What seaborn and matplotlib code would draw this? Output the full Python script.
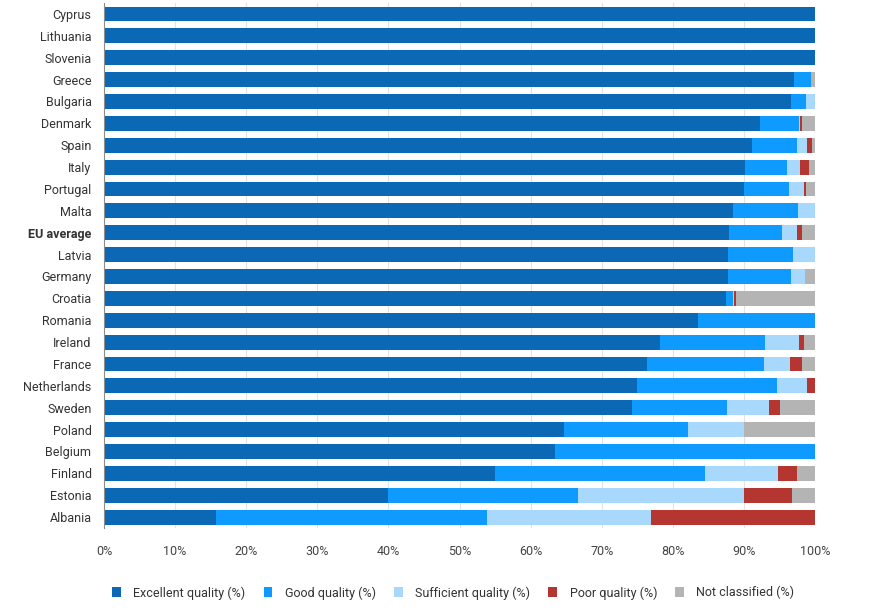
import numpy as np
import pandas as pd
import matplotlib
matplotlib.use("Agg")
import matplotlib.pyplot as plt
from matplotlib.patches import Patch
import seaborn as sns

# Datos (porcentaje de aguas de baño por calidad)
countries = ["Cyprus", "Lithuania", "Slovenia", "Greece", "Bulgaria", "Denmark",
             "Spain", "Italy", "Portugal", "Malta", "EU average", "Latvia",
             "Germany", "Croatia", "Romania", "Ireland", "France", "Netherlands",
             "Sweden", "Poland", "Belgium", "Finland", "Estonia", "Albania"]
excellent = [100, 100, 100, 97.0, 96.6, 92.2, 91.1, 90.1, 90.0, 88.4, 87.9, 87.8,
             87.8, 87.5, 83.6, 78.2, 76.4, 75.0, 74.2, 64.7, 63.4, 55.0, 39.9, 15.8]
good = [0, 0, 0, 2.4, 2.2, 5.5, 6.4, 6.0, 6.4, 9.2, 7.5, 9.1,
        8.8, 1.0, 16.4, 14.8, 16.4, 19.6, 13.4, 17.4, 36.6, 29.5, 26.8, 38.1]
sufficient = [0, 0, 0, 0, 1.2, 0.2, 1.4, 1.8, 2.0, 2.4, 2.0, 3.1,
              2.0, 0.1, 0, 4.8, 3.7, 4.3, 6.0, 7.9, 0, 10.3, 23.3, 23.1]
poor = [0, 0, 0, 0, 0, 0.3, 0.7, 1.3, 0.4, 0, 0.8, 0,
        0, 0.3, 0, 0.7, 1.7, 1.1, 1.5, 0, 0, 2.6, 6.7, 23.0]
not_classified = [0, 0, 0, 0.6, 0, 1.8, 0.4, 0.8, 1.2, 0, 1.8, 0,
                  1.4, 11.1, 0, 1.5, 1.8, 0, 4.9, 10.0, 0, 2.6, 3.3, 0]

series = ["Excellent quality (%)", "Good quality (%)", "Sufficient quality (%)",
          "Poor quality (%)", "Not classified (%)"]
colors = ["#0a68b4", "#0e9aff", "#a8d8fb", "#b53530", "#b4b4b4"]

df = pd.DataFrame({"country": countries, series[0]: excellent, series[1]: good,
                   series[2]: sufficient, series[3]: poor, series[4]: not_classified})
cum = df[series].cumsum(axis=1)

plt.rcParams["font.family"] = ["Roboto", "DejaVu Sans"]

fig = plt.figure(figsize=(8.75, 6.08), dpi=100)
ax = fig.add_axes([104 / 875, 1 - 528 / 608, 711 / 875, 525 / 608])

# Barras apiladas: se dibuja el acumulado de mayor a menor
for s, c in reversed(list(zip(series, colors))):
    sns.barplot(x=cum[s], y=df["country"], color=c, orient="h", width=0.68,
                saturation=1, linewidth=0, ax=ax)

ax.set_xlim(0, 100)
ax.set_ylim(len(countries) - 0.5, -0.5)
ax.set_xticks(np.arange(0, 101, 10))
ax.set_xticklabels([f"{v}%" for v in range(0, 101, 10)])
ax.set_xlabel("")
ax.set_ylabel("")
ax.set_axisbelow(True)
ax.grid(axis="x", color="#e3e3e3", linewidth=0.8)
for side in ["top", "right", "bottom"]:
    ax.spines[side].set_visible(False)
ax.spines["left"].set_color("#8c8c8c")
ax.spines["left"].set_linewidth(0.8)
ax.tick_params(axis="x", length=0, pad=12, labelsize=9, labelcolor="#444444")
ax.tick_params(axis="y", length=0, pad=9, labelsize=9, labelcolor="#333333")
for lbl in ax.get_yticklabels():
    if lbl.get_text() == "EU average":
        lbl.set_fontweight("bold")

handles = [Patch(facecolor=c, edgecolor="none", label=s) for s, c in zip(series, colors)]
fig.legend(handles=handles, loc="center", bbox_to_anchor=(0.518, 0.025), ncol=5,
           frameon=False, fontsize=9, labelcolor="#333333", handlelength=0.7,
           handleheight=0.9, handletextpad=1.0, columnspacing=1.45)

fig.savefig("out.png", dpi=100)
